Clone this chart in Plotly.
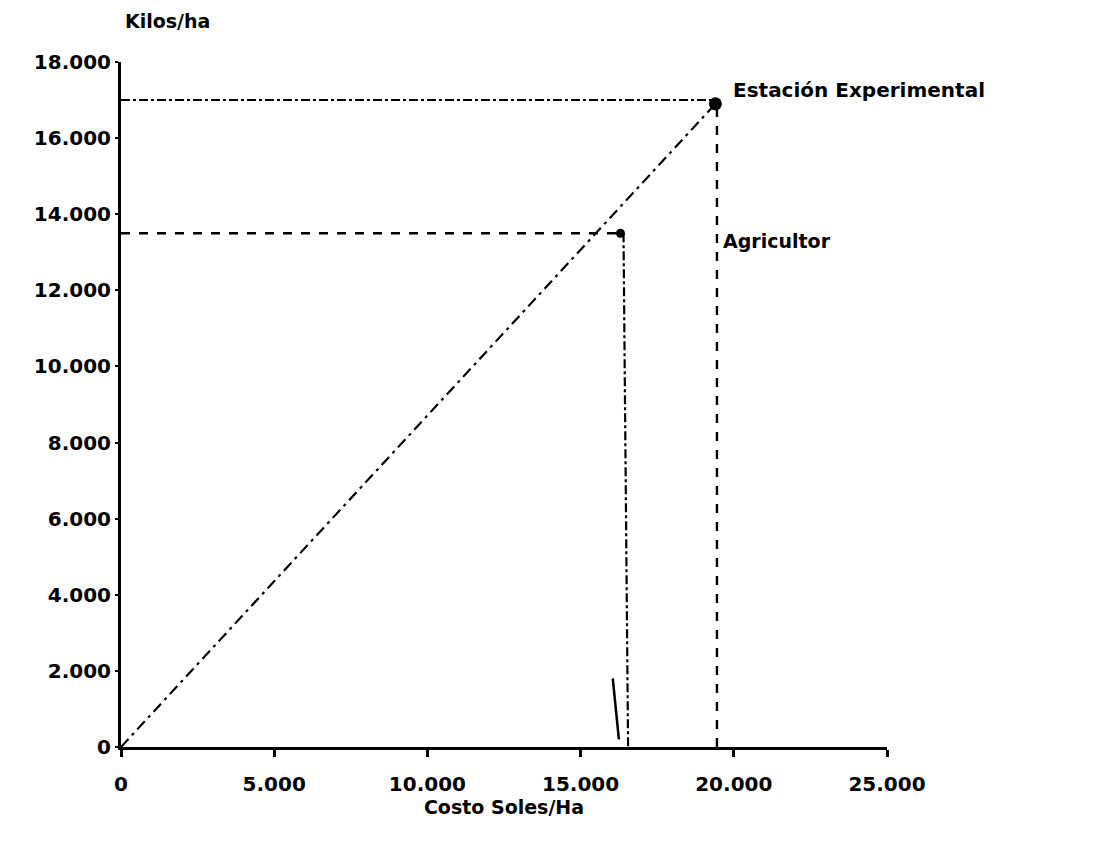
import plotly.graph_objects as go

# Data
x_ticks = [0, 5000, 10000, 15000, 20000, 25000]
x_ticklabels = ["0", "5.000", "10.000", "15.000", "20.000", "25.000"]
y_ticks = [0, 2000, 4000, 6000, 8000, 10000, 12000, 14000, 16000, 18000]
y_ticklabels = ["0", "2.000", "4.000", "6.000", "8.000", "10.000", "12.000", "14.000", "16.000", "18.000"]

point_names = ["Estación Experimental", "Agricultor"]
point_cost = [19400, 16300]      # Costo Soles/Ha
point_yield = [16900, 13500]     # Kilos/ha

stray_x = [16050, 16250]
stray_y = [1800, 200]

FONT = "DejaVu Sans"
BLACK = "#000000"

fig = go.Figure()

# diagonal from origin to Estación
fig.add_trace(go.Scatter(x=[0, point_cost[0]], y=[0, point_yield[0]], mode="lines",
                         line=dict(color=BLACK, width=2.2, dash="11px,5px,3px,5px"), hoverinfo="skip"))
# horizontal guides
fig.add_trace(go.Scatter(x=[0, point_cost[0]], y=[point_yield[0] + 100, point_yield[0] + 100], mode="lines",
                         line=dict(color=BLACK, width=2, dash="dashdot"), hoverinfo="skip"))
fig.add_trace(go.Scatter(x=[0, point_cost[1]], y=[point_yield[1], point_yield[1]], mode="lines",
                         line=dict(color=BLACK, width=2.4, dash="dash"), hoverinfo="skip"))
# vertical guides
fig.add_trace(go.Scatter(x=[point_cost[0] + 50, point_cost[0] + 50], y=[0, point_yield[0]], mode="lines",
                         line=dict(color=BLACK, width=2.4, dash="dash"), hoverinfo="skip"))
fig.add_trace(go.Scatter(x=[point_cost[1] + 100, point_cost[1] + 250], y=[point_yield[1], 0], mode="lines",
                         line=dict(color=BLACK, width=2.2, dash="dashdot"), hoverinfo="skip"))
# stray pen mark
fig.add_trace(go.Scatter(x=stray_x, y=stray_y, mode="lines",
                         line=dict(color=BLACK, width=2.5), hoverinfo="skip"))
# points
fig.add_trace(go.Scatter(x=point_cost, y=point_yield, mode="markers",
                         marker=dict(color=BLACK, size=[13, 9], opacity=1, line=dict(width=0)),
                         hoverinfo="skip"))

fig.add_annotation(x=point_cost[0], y=point_yield[0], text="Estación Experimental", showarrow=False,
                   xanchor="left", yanchor="middle", xshift=16, yshift=14,
                   font=dict(family=FONT, size=20, color=BLACK, weight="bold"))
fig.add_annotation(x=point_cost[0], y=point_yield[1], text="Agricultor", showarrow=False,
                   xanchor="left", yanchor="middle", xshift=6, yshift=-8,
                   font=dict(family=FONT, size=19, color=BLACK, weight="bold"))
fig.add_annotation(xref="paper", yref="paper", x=0.0, y=1.0, text="Kilos/ha", showarrow=False,
                   xanchor="left", yanchor="bottom", xshift=2, yshift=28,
                   font=dict(family=FONT, size=19, color=BLACK, weight="bold"))

fig.update_xaxes(range=[0, 25000], tickvals=x_ticks, ticktext=x_ticklabels,
                 showgrid=False, zeroline=False, showline=True, linecolor=BLACK, linewidth=3,
                 ticks="outside", ticklen=7, tickwidth=3, tickcolor=BLACK, ticklabelstandoff=10,
                 tickfont=dict(family=FONT, size=20, color=BLACK, weight="bold"),
                 title=dict(text="Costo Soles/Ha", standoff=0,
                            font=dict(family=FONT, size=19, color=BLACK, weight="bold")))
fig.update_yaxes(range=[0, 18000], tickvals=y_ticks, ticktext=y_ticklabels,
                 showgrid=False, zeroline=False, showline=True, linecolor=BLACK, linewidth=3,
                 ticks="outside", ticklen=3, tickwidth=2, tickcolor=BLACK,
                 tickfont=dict(family=FONT, size=20, color=BLACK, weight="bold"))

fig.update_layout(width=1112, height=842, showlegend=False,
                  plot_bgcolor="white", paper_bgcolor="white",
                  margin=dict(l=113, r=233, t=54, b=103))

fig.write_html("out.html")
